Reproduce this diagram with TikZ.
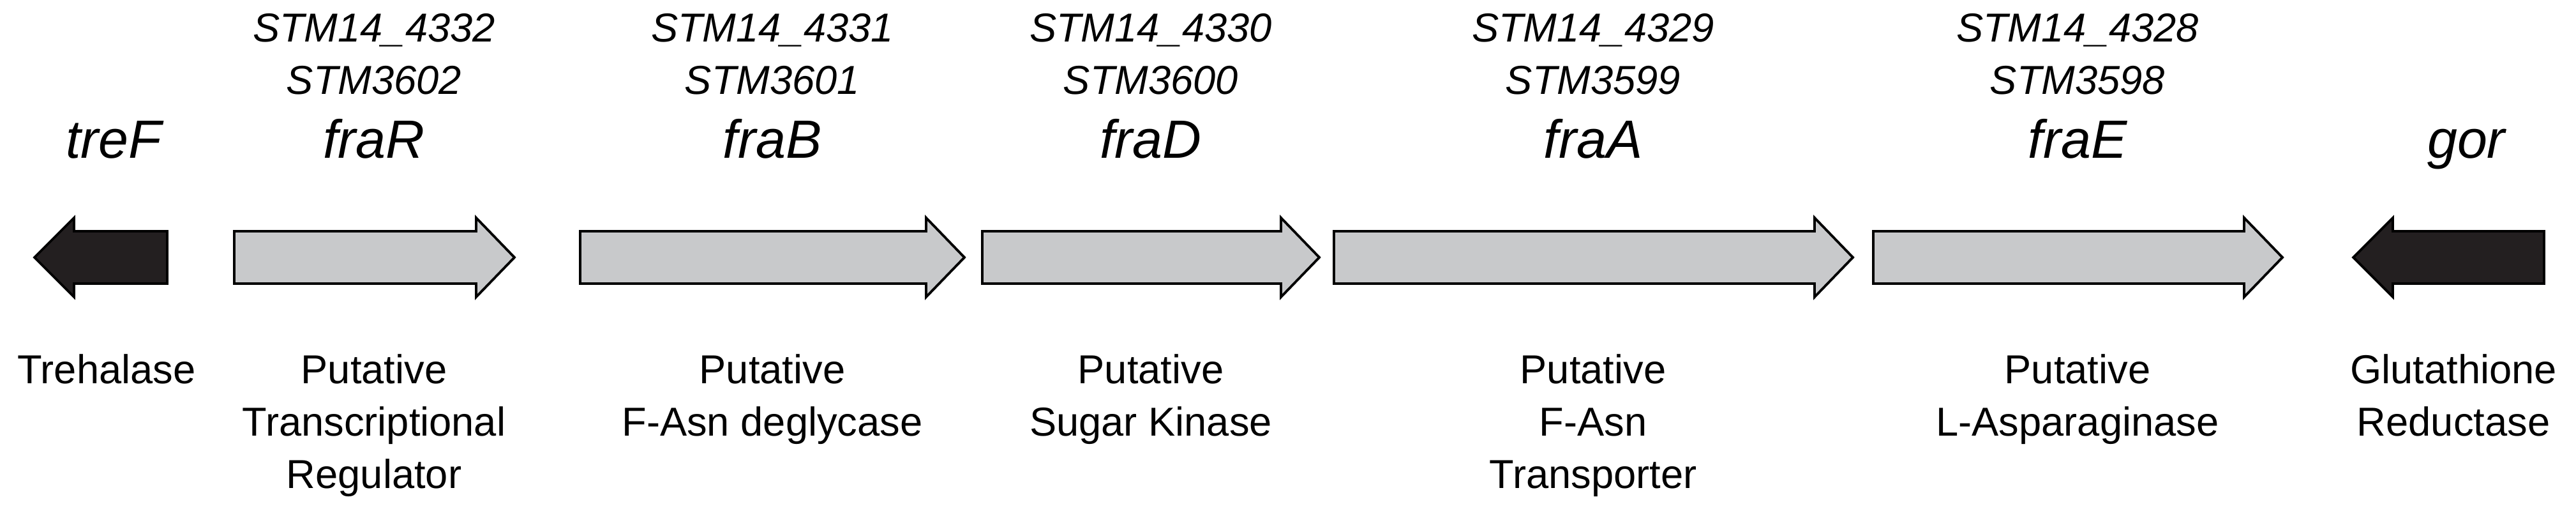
\documentclass[tikz,border=0pt]{standalone}
\usepackage{fontspec}
\setmainfont{Liberation Sans}
\usepackage{xcolor}
\definecolor{genegray}{HTML}{C8C9CB}
\definecolor{geneblack}{HTML}{231F20}

% forward / reverse gene arrow: start, end, fill
\newcommand{\fwdgene}[3]{\draw[gene,fill=#3] (#1,3.56)--(#2-0.6,3.56)--(#2-0.6,3.35)--(#2,3.97)--(#2-0.6,4.59)--(#2-0.6,4.38)--(#1,4.38)--cycle;}
\newcommand{\revgene}[3]{\draw[gene,fill=#3] (#2,3.56)--(#1+0.62,3.56)--(#1+0.62,3.35)--(#1,3.97)--(#1+0.62,4.59)--(#1+0.62,4.38)--(#2,4.38)--cycle;}

\begin{document}
\begin{tikzpicture}[gene/.style = {draw=black, line width=1.1pt},
	locus/.style = {anchor=base, font=\fontsize{18}{22}\selectfont\itshape},
	genename/.style = {anchor=base, font=\fontsize{24}{28}\selectfont\itshape},
	desc/.style = {anchor=north, align=center, font=\fontsize{18}{23.3}\selectfont, inner sep=0pt}]
	\useasboundingbox (0,0) rectangle (40.36,8);
	% arrows
	\revgene{0.54}{2.62}{geneblack}
	\fwdgene{3.67}{8.06}{genegray}
	\fwdgene{9.09}{15.11}{genegray}
	\fwdgene{15.39}{20.67}{genegray}
	\fwdgene{20.90}{29.03}{genegray}
	\fwdgene{29.35}{35.76}{genegray}
	\revgene{36.87}{39.86}{geneblack}
	% gene names
	\node[genename] (treF) at (1.78,5.52) {treF};
	\node[genename] (fraR) at (5.86,5.52) {fraR};
	\node[genename] (fraB) at (12.10,5.52) {fraB};
	\node[genename] (fraD) at (18.03,5.52) {fraD};
	\node[genename] (fraA) at (24.96,5.52) {fraA};
	\node[genename] (fraE) at (32.55,5.52) {fraE};
	\node[genename] (gor) at (38.64,5.52) {gor};
	% locus tags
	\node[locus] (l4332) at (5.86,7.34) {STM14\_4332};
	\node[locus] (l3602) at (5.86,6.52) {STM3602};
	\node[locus] (l4331) at (12.10,7.34) {STM14\_4331};
	\node[locus] (l3601) at (12.10,6.52) {STM3601};
	\node[locus] (l4330) at (18.03,7.34) {STM14\_4330};
	\node[locus] (l3600) at (18.03,6.52) {STM3600};
	\node[locus] (l4329) at (24.96,7.34) {STM14\_4329};
	\node[locus] (l3599) at (24.96,6.52) {STM3599};
	\node[locus] (l4328) at (32.55,7.34) {STM14\_4328};
	\node[locus] (l3598) at (32.55,6.52) {STM3598};
	% functions
	\node[desc] (dtreF) at (1.67,2.46) {Trehalase};
	\node[desc] (dfraR) at (5.86,2.46) {Putative\\Transcriptional\\Regulator};
	\node[desc] (dfraB) at (12.10,2.46) {Putative\\F-Asn deglycase};
	\node[desc] (dfraD) at (18.03,2.46) {Putative\\Sugar Kinase};
	\node[desc] (dfraA) at (24.96,2.46) {Putative\\F-Asn\\Transporter};
	\node[desc] (dfraE) at (32.55,2.46) {Putative\\L-Asparaginase};
	\node[desc] (dgor) at (38.44,2.46) {Glutathione\\Reductase};
\end{tikzpicture}
\end{document}
